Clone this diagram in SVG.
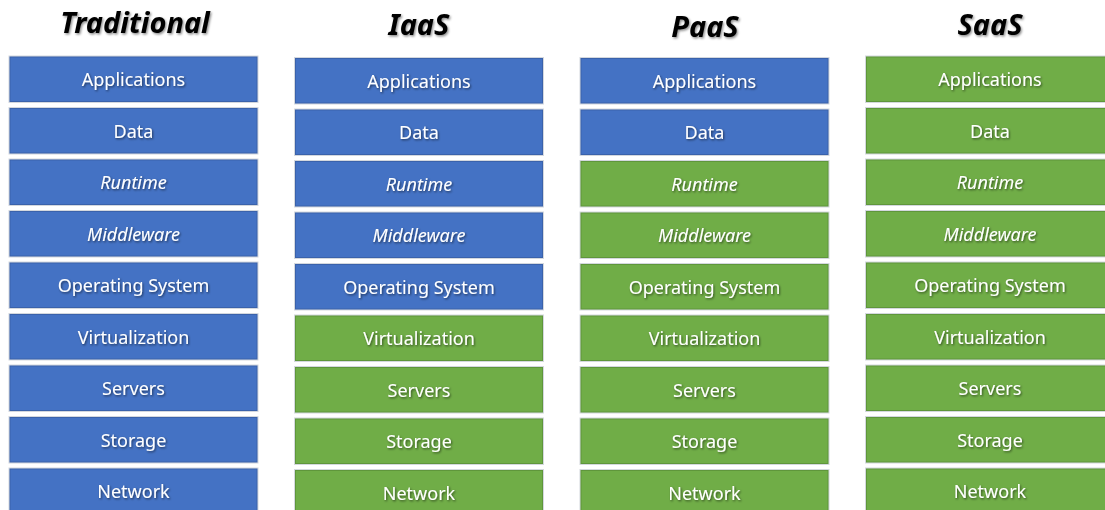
<svg xmlns="http://www.w3.org/2000/svg" width="1105" height="510" viewBox="0 0 1105 510">
  <defs>
    <filter id="txtShadow" x="-10%" y="-30%" width="120%" height="160%">
      <feDropShadow dx="1" dy="1.2" stdDeviation="0.8" flood-color="#000" flood-opacity="0.55"/>
    </filter>
    <filter id="titleShadow" x="-10%" y="-30%" width="120%" height="160%">
      <feDropShadow dx="1.2" dy="1.5" stdDeviation="1" flood-color="#000" flood-opacity="0.45"/>
    </filter>
  </defs>
  <style>
    .title { font-family: "Noto Sans", "Open Sans", sans-serif; font-weight: bold; font-style: italic; font-size: 29px; fill: #000; text-anchor: middle; filter: url(#titleShadow); }
    .box { stroke-width: 1; }
    .halo { fill: none; stroke: #d4d8de; stroke-width: 3; }
    .blue { fill: #4472C4; stroke: #3a62ab; }
    .green { fill: #70AD47; stroke: #5f963b; }
    .lbl { font-family: "Noto Sans", "Open Sans", sans-serif; font-size: 18px; fill: #fff; text-anchor: middle; filter: url(#txtShadow); }
    .it { font-style: italic; }
  </style>

  <!-- column headings -->
  <g id="titles">
    <text class="title" x="135" y="33">Traditional</text>
    <text class="title" x="419" y="35">IaaS</text>
    <text class="title" x="705" y="37">PaaS</text>
    <text class="title" x="990" y="35">SaaS</text>
  </g>

  <!-- Traditional: everything managed in-house -->
  <g id="traditional" transform="translate(10,0)">
    <g id="trad-applications"><rect class="halo" x="0" y="57" width="247" height="44.5"/><rect class="box blue" x="0" y="57" width="247" height="44.5"/><text class="lbl" x="123.5" y="86">Applications</text></g>
    <g id="trad-data"><rect class="halo" x="0" y="108.5" width="247" height="44.5"/><rect class="box blue" x="0" y="108.5" width="247" height="44.5"/><text class="lbl" x="123.5" y="137.5">Data</text></g>
    <g id="trad-runtime"><rect class="halo" x="0" y="160" width="247" height="44.5"/><rect class="box blue" x="0" y="160" width="247" height="44.5"/><text class="lbl it" x="123.5" y="189">Runtime</text></g>
    <g id="trad-middleware"><rect class="halo" x="0" y="211.5" width="247" height="44.5"/><rect class="box blue" x="0" y="211.5" width="247" height="44.5"/><text class="lbl it" x="123.5" y="240.5">Middleware</text></g>
    <g id="trad-os"><rect class="halo" x="0" y="263" width="247" height="44.5"/><rect class="box blue" x="0" y="263" width="247" height="44.5"/><text class="lbl" x="123.5" y="292">Operating System</text></g>
    <g id="trad-virtualization"><rect class="halo" x="0" y="314.5" width="247" height="44.5"/><rect class="box blue" x="0" y="314.5" width="247" height="44.5"/><text class="lbl" x="123.5" y="343.5">Virtualization</text></g>
    <g id="trad-servers"><rect class="halo" x="0" y="366" width="247" height="44.5"/><rect class="box blue" x="0" y="366" width="247" height="44.5"/><text class="lbl" x="123.5" y="395">Servers</text></g>
    <g id="trad-storage"><rect class="halo" x="0" y="417.5" width="247" height="44.5"/><rect class="box blue" x="0" y="417.5" width="247" height="44.5"/><text class="lbl" x="123.5" y="446.5">Storage</text></g>
    <g id="trad-network"><rect class="halo" x="0" y="469" width="247" height="44.5"/><rect class="box blue" x="0" y="469" width="247" height="44.5"/><text class="lbl" x="123.5" y="498">Network</text></g>
  </g>

  <!-- IaaS -->
  <g id="iaas" transform="translate(295.5,1.5)">
    <g id="iaas-applications"><rect class="halo" x="0" y="57" width="247" height="44.5"/><rect class="box blue" x="0" y="57" width="247" height="44.5"/><text class="lbl" x="123.5" y="86">Applications</text></g>
    <g id="iaas-data"><rect class="halo" x="0" y="108.5" width="247" height="44.5"/><rect class="box blue" x="0" y="108.5" width="247" height="44.5"/><text class="lbl" x="123.5" y="137.5">Data</text></g>
    <g id="iaas-runtime"><rect class="halo" x="0" y="160" width="247" height="44.5"/><rect class="box blue" x="0" y="160" width="247" height="44.5"/><text class="lbl it" x="123.5" y="189">Runtime</text></g>
    <g id="iaas-middleware"><rect class="halo" x="0" y="211.5" width="247" height="44.5"/><rect class="box blue" x="0" y="211.5" width="247" height="44.5"/><text class="lbl it" x="123.5" y="240.5">Middleware</text></g>
    <g id="iaas-os"><rect class="halo" x="0" y="263" width="247" height="44.5"/><rect class="box blue" x="0" y="263" width="247" height="44.5"/><text class="lbl" x="123.5" y="292">Operating System</text></g>
    <g id="iaas-virtualization"><rect class="halo" x="0" y="314.5" width="247" height="44.5"/><rect class="box green" x="0" y="314.5" width="247" height="44.5"/><text class="lbl" x="123.5" y="343.5">Virtualization</text></g>
    <g id="iaas-servers"><rect class="halo" x="0" y="366" width="247" height="44.5"/><rect class="box green" x="0" y="366" width="247" height="44.5"/><text class="lbl" x="123.5" y="395">Servers</text></g>
    <g id="iaas-storage"><rect class="halo" x="0" y="417.5" width="247" height="44.5"/><rect class="box green" x="0" y="417.5" width="247" height="44.5"/><text class="lbl" x="123.5" y="446.5">Storage</text></g>
    <g id="iaas-network"><rect class="halo" x="0" y="469" width="247" height="44.5"/><rect class="box green" x="0" y="469" width="247" height="44.5"/><text class="lbl" x="123.5" y="498">Network</text></g>
  </g>

  <!-- PaaS -->
  <g id="paas" transform="translate(581,1.5)">
    <g id="paas-applications"><rect class="halo" x="0" y="57" width="247" height="44.5"/><rect class="box blue" x="0" y="57" width="247" height="44.5"/><text class="lbl" x="123.5" y="86">Applications</text></g>
    <g id="paas-data"><rect class="halo" x="0" y="108.5" width="247" height="44.5"/><rect class="box blue" x="0" y="108.5" width="247" height="44.5"/><text class="lbl" x="123.5" y="137.5">Data</text></g>
    <g id="paas-runtime"><rect class="halo" x="0" y="160" width="247" height="44.5"/><rect class="box green" x="0" y="160" width="247" height="44.5"/><text class="lbl it" x="123.5" y="189">Runtime</text></g>
    <g id="paas-middleware"><rect class="halo" x="0" y="211.5" width="247" height="44.5"/><rect class="box green" x="0" y="211.5" width="247" height="44.5"/><text class="lbl it" x="123.5" y="240.5">Middleware</text></g>
    <g id="paas-os"><rect class="halo" x="0" y="263" width="247" height="44.5"/><rect class="box green" x="0" y="263" width="247" height="44.5"/><text class="lbl" x="123.5" y="292">Operating System</text></g>
    <g id="paas-virtualization"><rect class="halo" x="0" y="314.5" width="247" height="44.5"/><rect class="box green" x="0" y="314.5" width="247" height="44.5"/><text class="lbl" x="123.5" y="343.5">Virtualization</text></g>
    <g id="paas-servers"><rect class="halo" x="0" y="366" width="247" height="44.5"/><rect class="box green" x="0" y="366" width="247" height="44.5"/><text class="lbl" x="123.5" y="395">Servers</text></g>
    <g id="paas-storage"><rect class="halo" x="0" y="417.5" width="247" height="44.5"/><rect class="box green" x="0" y="417.5" width="247" height="44.5"/><text class="lbl" x="123.5" y="446.5">Storage</text></g>
    <g id="paas-network"><rect class="halo" x="0" y="469" width="247" height="44.5"/><rect class="box green" x="0" y="469" width="247" height="44.5"/><text class="lbl" x="123.5" y="498">Network</text></g>
  </g>

  <!-- SaaS: everything provided -->
  <g id="saas" transform="translate(866.5,0)">
    <g id="saas-applications"><rect class="halo" x="0" y="57" width="247" height="44.5"/><rect class="box green" x="0" y="57" width="247" height="44.5"/><text class="lbl" x="123.5" y="86">Applications</text></g>
    <g id="saas-data"><rect class="halo" x="0" y="108.5" width="247" height="44.5"/><rect class="box green" x="0" y="108.5" width="247" height="44.5"/><text class="lbl" x="123.5" y="137.5">Data</text></g>
    <g id="saas-runtime"><rect class="halo" x="0" y="160" width="247" height="44.5"/><rect class="box green" x="0" y="160" width="247" height="44.5"/><text class="lbl it" x="123.5" y="189">Runtime</text></g>
    <g id="saas-middleware"><rect class="halo" x="0" y="211.5" width="247" height="44.5"/><rect class="box green" x="0" y="211.5" width="247" height="44.5"/><text class="lbl it" x="123.5" y="240.5">Middleware</text></g>
    <g id="saas-os"><rect class="halo" x="0" y="263" width="247" height="44.5"/><rect class="box green" x="0" y="263" width="247" height="44.5"/><text class="lbl" x="123.5" y="292">Operating System</text></g>
    <g id="saas-virtualization"><rect class="halo" x="0" y="314.5" width="247" height="44.5"/><rect class="box green" x="0" y="314.5" width="247" height="44.5"/><text class="lbl" x="123.5" y="343.5">Virtualization</text></g>
    <g id="saas-servers"><rect class="halo" x="0" y="366" width="247" height="44.5"/><rect class="box green" x="0" y="366" width="247" height="44.5"/><text class="lbl" x="123.5" y="395">Servers</text></g>
    <g id="saas-storage"><rect class="halo" x="0" y="417.5" width="247" height="44.5"/><rect class="box green" x="0" y="417.5" width="247" height="44.5"/><text class="lbl" x="123.5" y="446.5">Storage</text></g>
    <g id="saas-network"><rect class="halo" x="0" y="469" width="247" height="44.5"/><rect class="box green" x="0" y="469" width="247" height="44.5"/><text class="lbl" x="123.5" y="498">Network</text></g>
  </g>

  <!-- no connectors in this layout -->
  <g id="connectors"/>
</svg>
